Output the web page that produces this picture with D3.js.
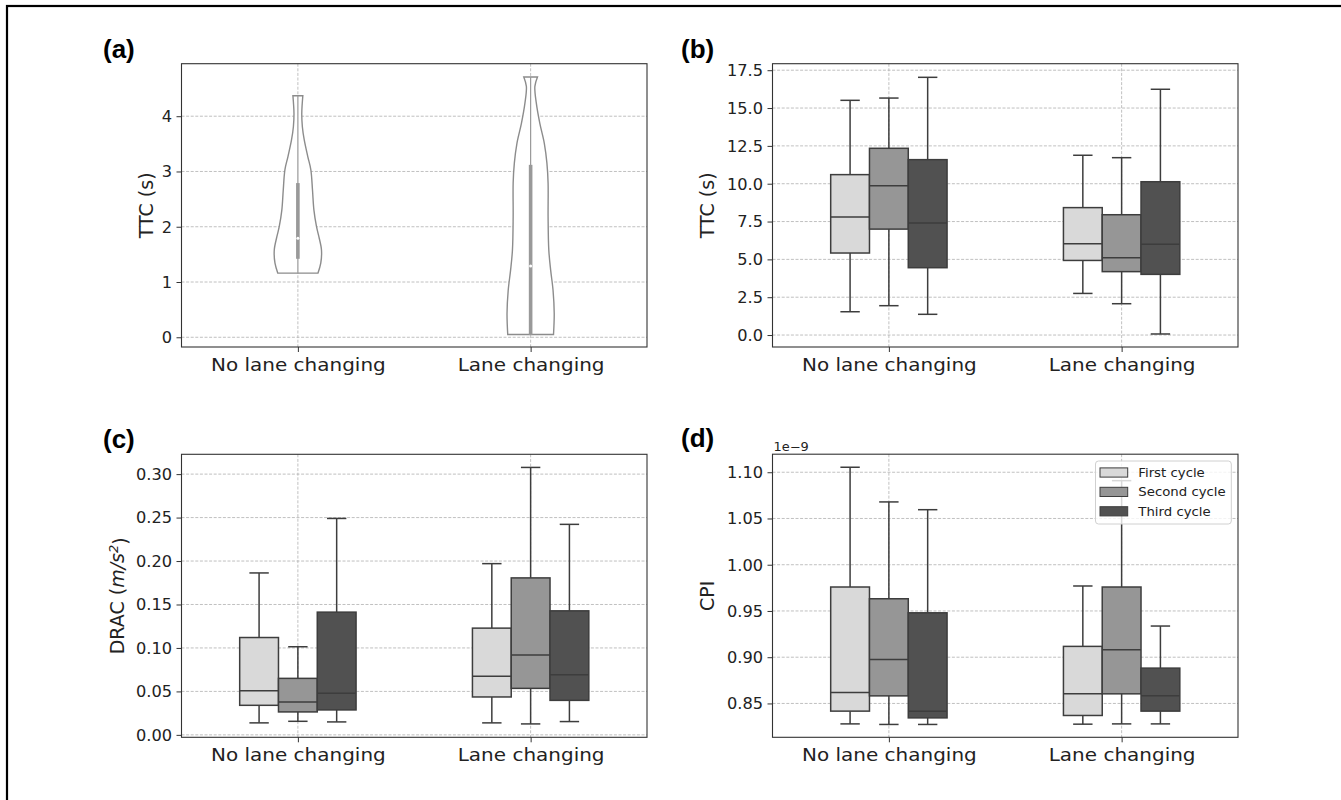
<!DOCTYPE html>
<html><head><meta charset="utf-8">
<script src="https://cdn.jsdelivr.net/npm/d3@7"></script>
<style>
body{margin:0;background:#fff;}
svg text{font-family:"DejaVu Sans",sans-serif;fill:#222;}
</style>
</head><body>
<svg id="chart" width="1341" height="800"></svg>
<script>
// ---------------- DATA ----------------
const categories = ["No lane changing", "Lane changing"];
const cycles = ["First cycle", "Second cycle", "Third cycle"];
const cycleColors = ["#d9d9d9", "#969696", "#515151"];

// (a) violin: [TTC value, relative density]
const violinNoLane = [[1.16,0.85],[1.34,0.97],[1.58,1.0],[1.82,0.89],[2.0,0.79],[2.3,0.68],[2.66,0.62],[3.03,0.55],[3.27,0.42],[3.57,0.27],[3.81,0.19],[4.05,0.165],[4.37,0.21]];
const violinLane = [[0.05,0.97],[0.43,1.0],[0.85,0.95],[1.21,0.85],[1.58,0.77],[2.18,0.74],[2.79,0.74],[3.15,0.69],[3.51,0.58],[3.87,0.39],[4.24,0.24],[4.54,0.18],[4.71,0.29]];
// inner box: [min, q1, median, q3, max]
const violinBoxNoLane = [1.16, 1.42, 1.79, 2.79, 4.37];
const violinBoxLane = [0.04, 0.04, 1.29, 3.12, 4.71];

// box stats per cycle: [low whisker, q1, median, q3, high whisker]
const ttcNoLane = [[1.54,5.42,7.80,10.60,15.51],[1.94,7.00,9.87,12.34,15.66],[1.37,4.45,7.40,11.59,17.03]];
const ttcLane   = [[2.75,4.93,6.04,8.42,11.88],[2.07,4.19,5.11,7.95,11.72],[0.07,4.01,6.00,10.13,16.24]];
const dracNoLane = [[0.0138,0.034,0.0509,0.112,0.1863],[0.0156,0.0264,0.0379,0.065,0.1014],[0.0149,0.0287,0.0478,0.1412,0.249]];
const dracLane   = [[0.0138,0.0436,0.0673,0.1228,0.197],[0.0126,0.0535,0.0918,0.1806,0.3077],[0.0153,0.0397,0.0692,0.1427,0.2422]];
// CPI in units of 1e-9
const cpiNoLane = [[0.8279,0.8417,0.8619,0.9759,1.1054],[0.8273,0.8582,0.8976,0.9632,1.0679],[0.8273,0.8344,0.8417,0.948,1.0595]];
const cpiLane   = [[0.8276,0.837,0.8604,0.9117,0.977],[0.8279,0.8604,0.908,0.9759,1.0909],[0.8279,0.8417,0.8582,0.8882,0.9337]];

const yTicksA = [0,1,2,3,4];
const yTicksB = [0,2.5,5,7.5,10,12.5,15,17.5];
const yTicksC = [0,0.05,0.10,0.15,0.20,0.25,0.30];
const yTicksD = [0.85,0.90,0.95,1.00,1.05,1.10];

// ---------------- LAYOUT ----------------
const svg = d3.select("#chart");
const SX = 1.08;          // horizontal text stretch of the reference
const TICK_FS = 15, CAT_FS = 18.5, YLAB_FS = 19;
const lineCol = "#3d3d3d";

svg.append("rect").attr("x",7).attr("y",6).attr("width",1500).attr("height",1000)
  .attr("fill","none").attr("stroke","#000").attr("stroke-width",2.2);

function panel(box, yDomain, yTicks, fmt, tag, labelX, labelY, catBaseline) {
  const g = svg.append("g");
  const x = d3.scaleBand().domain(categories).range([box.x, box.x + box.w]);
  const y = d3.scaleLinear().domain(yDomain).range([box.y + box.h, box.y]);
  const bw = x.bandwidth();
  // grid
  g.append("g").selectAll("line.h").data(yTicks).join("line")
    .attr("x1", box.x).attr("x2", box.x + box.w)
    .attr("y1", d => y(d)).attr("y2", d => y(d))
    .attr("stroke", "#b0b0b0").attr("stroke-width", 0.8).attr("stroke-dasharray", "3,1.6");
  g.append("g").selectAll("line.v").data(categories).join("line")
    .attr("x1", d => x(d) + bw/2).attr("x2", d => x(d) + bw/2)
    .attr("y1", box.y).attr("y2", box.y + box.h)
    .attr("stroke", "#b0b0b0").attr("stroke-width", 0.8).attr("stroke-dasharray", "3,1.6");
  // axes
  const ya = g.append("g").attr("transform", `translate(${box.x},0)`)
    .call(d3.axisLeft(y).tickValues(yTicks).tickFormat(fmt).tickSize(5).tickPadding(4));
  ya.select(".domain").remove();
  ya.selectAll(".tick line").attr("stroke", "#333");
  ya.selectAll(".tick text").attr("font-family", null).style("font-size", TICK_FS + "px")
    .attr("x", -9.5 / SX).attr("dy", "0.36em").attr("transform", `scale(${SX},1)`);
  const xa = g.append("g").attr("transform", `translate(0,${box.y + box.h})`)
    .call(d3.axisBottom(d3.scalePoint().domain(categories).range([box.x + bw/2, box.x + box.w - bw/2])).tickSize(5));
  xa.select(".domain").remove();
  xa.selectAll(".tick line").attr("stroke", "#333");
  xa.selectAll(".tick text").attr("font-family", null).style("font-size", CAT_FS + "px")
    .attr("y", catBaseline - (box.y + box.h)).attr("dy", 0).attr("transform", `scale(${SX},1)`);
  // panel tag
  svg.append("text").attr("x", labelX).attr("y", labelY).text(tag)
    .style("font-family", "'Liberation Sans', Arial, sans-serif").style("font-weight", "bold")
    .style("font-size", "26px").style("fill", "#000");
  return {g, x, y, bw};
}

function frame(g, box) {
  g.append("rect").attr("x", box.x).attr("y", box.y).attr("width", box.w).attr("height", box.h)
    .attr("fill", "none").attr("stroke", "#333").attr("stroke-width", 1.1);
}

function ylabel(g, text, cx, cy) {
  return g.append("text").attr("transform", `translate(${cx},${cy}) rotate(-90)`)
    .attr("text-anchor", "middle").style("font-size", YLAB_FS + "px").text(text);
}

function boxes(P, statsByCat) {
  const hue = d3.scaleBand().domain(cycles).range([-P.bw * 0.25, P.bw * 0.25]);
  const hw = hue.bandwidth();
  categories.forEach((c, ci) => {
    cycles.forEach((cy, k) => {
      const s = statsByCat[ci][k];
      const cx = P.x(c) + P.bw/2 + hue(cy) + hw/2;
      const gg = P.g.append("g").attr("stroke", lineCol).attr("stroke-width", 1.5);
      gg.append("line").attr("x1", cx).attr("x2", cx).attr("y1", P.y(s[0])).attr("y2", P.y(s[1]));
      gg.append("line").attr("x1", cx).attr("x2", cx).attr("y1", P.y(s[3])).attr("y2", P.y(s[4]));
      gg.append("line").attr("x1", cx - hw/4).attr("x2", cx + hw/4).attr("y1", P.y(s[0])).attr("y2", P.y(s[0]));
      gg.append("line").attr("x1", cx - hw/4).attr("x2", cx + hw/4).attr("y1", P.y(s[4])).attr("y2", P.y(s[4]));
      gg.append("rect").attr("x", cx - hw/2).attr("width", hw)
        .attr("y", P.y(s[3])).attr("height", P.y(s[1]) - P.y(s[3]))
        .attr("fill", cycleColors[k]);
      gg.append("line").attr("x1", cx - hw/2).attr("x2", cx + hw/2).attr("y1", P.y(s[2])).attr("y2", P.y(s[2]));
    });
  });
}

const boxA = {x:181.5, y:63.7, w:465.5, h:283.3};
const boxB = {x:772.5, y:63.7, w:465.5, h:283.3};
const boxC = {x:181.5, y:454.3, w:465.5, h:283};
const boxD = {x:772.5, y:454.2, w:465.5, h:283.1};

// ---------- (a) ----------
const PA = panel(boxA, [-0.176, 4.95], yTicksA, d3.format("d"), "(a)", 103, 58, 371.5);
{
  const wScale = d3.scaleLinear().domain([0, 1]).range([0, PA.bw * 0.1014]);
  [[violinNoLane, violinBoxNoLane], [violinLane, violinBoxLane]].forEach(([dens, st], ci) => {
    const cx = PA.x(categories[ci]) + PA.bw/2;
    const area = d3.area().curve(d3.curveCatmullRom)
      .y(d => PA.y(d[0])).x0(d => cx - wScale(d[1])).x1(d => cx + wScale(d[1]));
    PA.g.append("path").attr("d", area(dens)).attr("fill", "#fff")
      .attr("stroke", "#8c8c8c").attr("stroke-width", 1.4);
    PA.g.append("line").attr("x1", cx).attr("x2", cx).attr("y1", PA.y(st[0])).attr("y2", PA.y(st[4]))
      .attr("stroke", "#999").attr("stroke-width", 1.2);
    PA.g.append("rect").attr("x", cx - 1.8).attr("width", 3.6)
      .attr("y", PA.y(st[3])).attr("height", PA.y(st[1]) - PA.y(st[3])).attr("fill", "#999");
    PA.g.append("circle").attr("cx", cx).attr("cy", PA.y(st[2])).attr("r", 1.5).attr("fill", "#fff");
  });
}
frame(PA.g, boxA);
ylabel(PA.g, "TTC (s)", 152.5, boxA.y + boxA.h/2);

// ---------- (b) ----------
const PB = panel(boxB, [-0.79, 17.93], yTicksB, d3.format(".1f"), "(b)", 681, 58, 371.5);
boxes(PB, [ttcNoLane, ttcLane]);
frame(PB.g, boxB);
ylabel(PB.g, "TTC (s)", 714, boxB.y + boxB.h/2);

// ---------- (c) ----------
const PC = panel(boxC, [-0.0028, 0.3228], yTicksC, d3.format(".2f"), "(c)", 103, 448, 761.5);
boxes(PC, [dracNoLane, dracLane]);
frame(PC.g, boxC);
{
  const t = PC.g.append("text").attr("transform", `translate(124,${boxC.y + boxC.h/2}) rotate(-90)`)
    .attr("text-anchor", "middle").style("font-size", YLAB_FS + "px");
  t.append("tspan").text("DRAC (");
  t.append("tspan").style("font-style", "italic").text("m/s");
  t.append("tspan").attr("dy", "-0.45em").style("font-size", "13px").style("font-style", "italic").text("2");
  t.append("tspan").attr("dy", "0.45em").text(")");
}

// ---------- (d) ----------
const PD = panel(boxD, [0.8134, 1.1195], yTicksD, d3.format(".2f"), "(d)", 681, 447, 761.5);
boxes(PD, [cpiNoLane, cpiLane]);
frame(PD.g, boxD);
ylabel(PD.g, "CPI", 714, boxD.y + boxD.h/2);
PD.g.append("text").attr("transform", `translate(773.5,451) scale(${SX},1)`).style("font-size", "12px").text("1e\u22129");

// legend
{
  const lg = PD.g.append("g");
  lg.append("rect").attr("x", 1095.5).attr("y", 461).attr("width", 135.8).attr("height", 63).attr("rx", 3)
    .attr("fill", "#fff").attr("fill-opacity", 0.8).attr("stroke", "#d0d0d0").attr("stroke-width", 1);
  cycles.forEach((c, k) => {
    const cy = 472.5 + k * 19.4;
    lg.append("rect").attr("x", 1100).attr("y", cy - 4.6).attr("width", 27.7).attr("height", 9.2)
      .attr("fill", cycleColors[k]).attr("stroke", lineCol).attr("stroke-width", 1);
    lg.append("text").attr("transform", `translate(1138.3,${cy + 4.5}) scale(${SX},1)`)
      .style("font-size", "12.3px").text(c);
  });
}
</script>
</body></html>
